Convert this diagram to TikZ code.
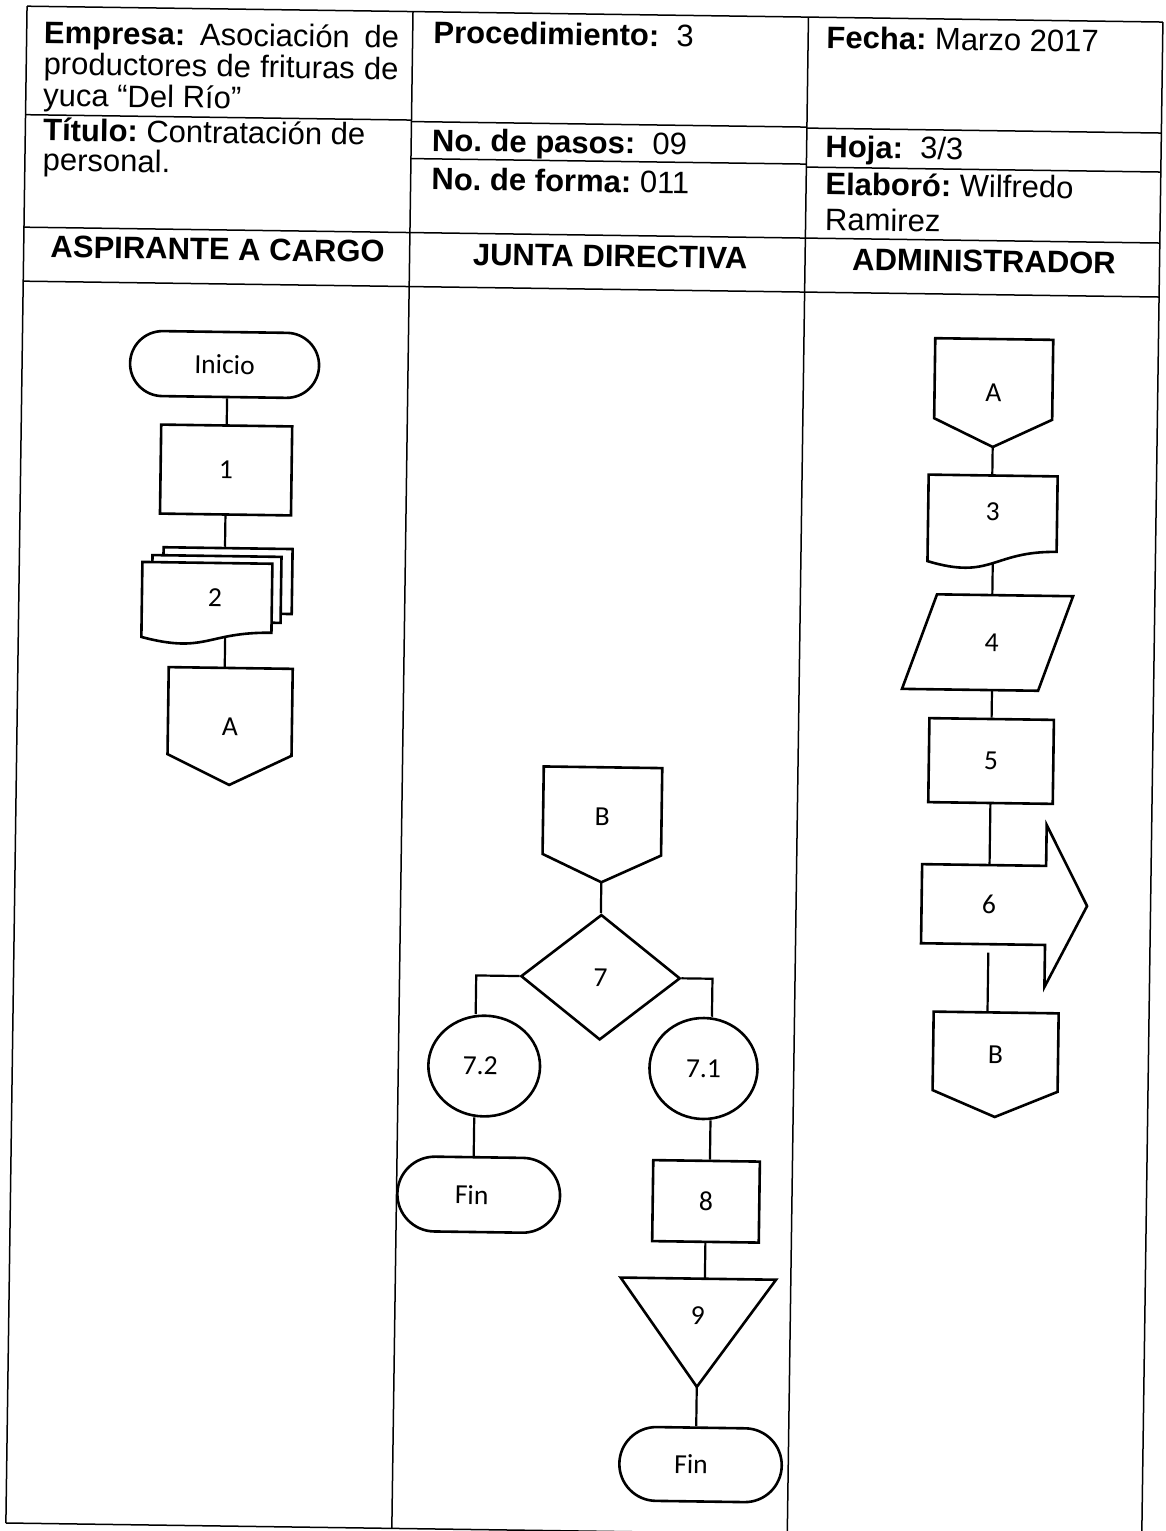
\documentclass[tikz,border=0pt]{standalone}
\usepackage{fontspec}
\setmainfont{Liberation Sans}
\newfontfamily\calib{Carlito}
\usetikzlibrary{shapes.geometric,shapes.misc}
\frenchspacing
\tikzset{
  tbl/.style={line width=0.75pt},
  shp/.style={draw, line width=1.3pt, fill=white},
  conn/.style={line width=1.1pt},
  hd/.style={font=\fontsize{15.5pt}{18pt}\selectfont, inner sep=0pt, anchor=base west},
  ttl/.style={font=\fontsize{15.5pt}{18pt}\selectfont\bfseries, inner sep=0pt, anchor=base},
  lbl/.style={font=\calib\fontsize{13.8pt}{16pt}\selectfont, inner sep=0pt},
  box/.style={shp, rectangle, lbl},
  ghost/.style={lbl, draw=none, rectangle},
}
\begin{document}
\begin{tikzpicture}[x=0.5pt,y=-0.5pt]
\useasboundingbox (0,0) rectangle (1166,1531);
\clip (0,0) rectangle (1166,1531);
\fill[white] (0,0) rectangle (1166,1531);
\begin{scope}[rotate around={-0.8:(583,765)}, transform shape]
% table
\draw[tbl] (16.5,14) -- (1152.5,14);
\draw[tbl] (16.5,14) -- (16.5,1531);
\draw[tbl] (402.5,14) -- (402.5,1531);
\draw[tbl] (798,14) -- (798,1531);
\draw[tbl] (1152.5,14) -- (1152.5,1531);
\draw[tbl] (16.5,122.5) -- (402.5,122.5);
\draw[tbl] (402.5,124) -- (798,124);
\draw[tbl] (798,125) -- (1152.5,125);
\draw[tbl] (402.5,161) -- (798,161);
\draw[tbl] (798,164) -- (1152.5,164);
\draw[tbl] (16.5,235) -- (1152.5,235);
\draw[tbl] (16.5,289) -- (1152.5,289);
\draw[tbl] (16.5,1531) -- (1152.5,1531);
% header texts
\node[hd] (emp) at (33.5,50.8) {\parbox[t]{190pt}{\raggedright\fontsize{15.5pt}{15.65pt}\selectfont\lineskiplimit=-100pt
  \makebox[177.5pt][s]{\textbf{Empresa:} Asociación de}\par
  \makebox[177.5pt][s]{productores de frituras de}\par
  yuca “Del Río”}};
\node[hd] (tit) at (34,148.3) {\parbox[t]{190pt}{\raggedright\fontsize{15.5pt}{15pt}\selectfont\lineskiplimit=-100pt
  \textbf{Título:} Contratación de\par
  personal.}};
\node[hd] (proc) at (423,45.3) {\textbf{Procedimiento:}\ \ 3};
\node[hd] (pasos) at (423,153.3) {\textbf{No. de pasos:}\ \ 09};
\node[hd] (forma) at (423,192) {\textbf{No. de forma:} 011};
\node[hd] (fecha) at (816,44.9) {\textbf{Fecha:} Marzo 2017};
\node[hd] (hoja) at (816.5,154.2) {\textbf{Hoja:}\ \ 3/3};
\node[hd] (elab) at (817,191.6) {\parbox[t]{170pt}{\raggedright\fontsize{15.5pt}{17.7pt}\selectfont\lineskiplimit=-100pt
  \textbf{Elaboró:} Wilfredo\par
  Ramirez}};
\node[ttl] (h1) at (210.5,265.1) {ASPIRANTE A CARGO};
\node[ttl] (h2) at (603,266.6) {JUNTA DIRECTIVA};
\node[ttl] (h3) at (977,266.4) {ADMINISTRADOR};
% ---- column 1
\node[shp, rounded rectangle, lbl, minimum width=94.5pt, minimum height=32.5pt] (ini) at (219,369.5) {Inicio};
\node[box, minimum width=65.5pt, minimum height=44.5pt] (s1) at (222,475) {1};
\draw[conn] (s1.north) -- (s1.north |- ini.south);
\node[shp, rectangle, minimum width=64.5pt, minimum height=32.5pt] (d2b) at (225.1,585.6) {};
\node[shp, rectangle, minimum width=64.5pt, minimum height=33pt] (d2m) at (214.1,594.1) {};
\draw[shp] (139.6,568.1) -- (269.6,568.1) -- (269.6,637.1) .. controls (204.6,637.1) and (204.6,659.5) .. (139.6,643.1) -- cycle;
\node[lbl] (t2) at (212.7,603.1) {2};
\draw[conn] (s1.south) -- (s1.south |- d2b.north);
\coordinate (c2b) at (223.4,641.5);
\draw[shp] (167.4,672.9) -- (291.4,672.9) -- (291.4,759.9) -- (229.4,789.9) -- (167.4,759.9) -- cycle;
\node[ghost, minimum width=62pt, minimum height=58.5pt] (A1) at (229.4,731.4) {A};
\draw[conn] (c2b) -- (c2b |- A1.north);
% ---- column 2
\draw[shp] (543.8,767) -- (662.3,767) -- (662.3,854.5) -- (603,882) -- (543.8,854.5) -- cycle;
\node[ghost, minimum width=59.25pt, minimum height=57.5pt] (B2) at (603,824.5) {\raisebox{8pt}{B}};
\node[shp, diamond, lbl, minimum width=79.7pt, minimum height=62.7pt] (d7) at (603.5,977) {7};
\draw[conn] (B2.south) -- (B2.south |- d7.north);
\coordinate (k72) at (479.2,977);
\coordinate (k71) at (715.5,977);
\node[shp, ellipse, lbl, minimum width=55.85pt, minimum height=50.35pt] (c72) at (488.4,1067.4) {7.2\kern4pt};
\node[shp, ellipse, lbl, minimum width=54pt, minimum height=50.5pt] (c71) at (707.7,1066.8) {7.1};
\draw[conn] (d7.west) -- (k72) -- (k72 |- c72.north);
\draw[conn] (d7.east) -- (k71) -- (k71 |- c71.north);
\node[shp, rounded rectangle, lbl, minimum width=81.35pt, minimum height=37.4pt] (f72) at (484.7,1196.1) {Fin\kern7pt};
\draw[conn] (k72 |- c72.south) -- (k72 |- f72.north);
\node[box, minimum width=53.3pt, minimum height=40.5pt] (s8) at (712.1,1199.6) {8};
\draw[conn] (k71 |- c71.south) -- (k71 |- s8.north);
\draw[shp] (627.8,1277) -- (783.2,1277) -- (705.5,1385.2) -- cycle;
\node[ghost, minimum width=77.7pt, minimum height=54.1pt] (t9) at (705.5,1331.1) {\raisebox{17pt}{9}};
\draw[conn] (s8.south) -- (s8.south |- t9.north);
\node[shp, rounded rectangle, lbl, minimum width=81.2pt, minimum height=36.9pt] (f9) at (710.3,1462.9) {Fin\kern9.5pt};
\draw[conn] (t9.south) -- (t9.south |- f9.north);
% ---- column 3
\draw[shp] (929.3,333.3) -- (1047.3,333.3) -- (1047.3,413.3) -- (988.3,441.3) -- (929.3,413.3) -- cycle;
\node[ghost, minimum width=59pt, minimum height=54pt] (A3) at (988.3,387.3) {A};
\draw[shp] (924.6,469.8) -- (1053.6,469.8) -- (1053.6,545.3) .. controls (989.1,545.3) and (989.1,574.8) .. (924.6,556.3) -- cycle;
\node[ghost, minimum width=64.5pt, minimum height=43.25pt] (d3) at (989.1,513.05) {\raisebox{7pt}{3}};
\draw[conn] (A3.south) -- (A3.south |- d3.north);
\coordinate (c3b) at (990,557.7);
\draw[shp] (934.6,589.4) -- (1070.7,589.4) -- (1037,684.4) -- (900.9,684.4) -- cycle;
\node[ghost, minimum width=68pt, minimum height=47.5pt] (p4) at (990,636.9) {4};
\draw[conn] (c3b) -- (c3b |- p4.north);
\node[box, minimum width=62.25pt, minimum height=42pt] (s5) at (991,755.3) {5};
\draw[conn] (s5.north) -- (s5.north |- p4.south);
\draw[shp] (923.5,859.4) -- (1047.5,859.4) -- (1047.5,818.5) -- (1089,899) -- (1047.5,980.5) -- (1047.5,938.5) -- (923.5,938.5) -- cycle;
\node[ghost, minimum width=58pt, minimum height=39.55pt] (a6) at (991,899) {6};
\draw[conn] (s5.south) -- (s5.south |- a6.north);
\draw[shp] (937.1,1006.7) -- (1062.1,1006.7) -- (1062.1,1085.2) -- (999.6,1111.2) -- (937.1,1085.2) -- cycle;
\node[ghost, minimum width=62.5pt, minimum height=52.25pt] (B3) at (999.6,1058.95) {\raisebox{10pt}{B}};
\draw[conn, shorten <=4pt] (s5.south |- a6.south) -- (s5.south |- B3.north);
\end{scope}
\end{tikzpicture}
\end{document}
